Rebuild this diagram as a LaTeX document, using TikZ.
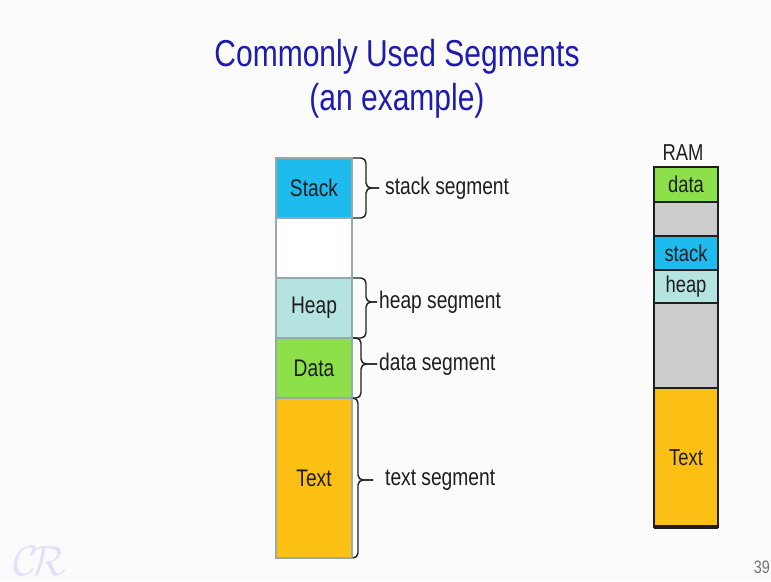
\documentclass[tikz,border=0pt]{standalone}
\usepackage{fontspec}
\setmainfont{Liberation Sans}[FakeStretch=0.8]
\usepackage{tikz}
\usepackage{xcolor}
\definecolor{pagebg}{HTML}{FAFBFA}
\definecolor{titleblue}{HTML}{1C1CB0}
\definecolor{stackblue}{HTML}{1EBBEE}
\definecolor{heapteal}{HTML}{B5E4E0}
\definecolor{datagreen}{HTML}{8EE04B}
\definecolor{textgold}{HTML}{FCBF14}
\definecolor{freegray}{HTML}{CCCDCC}
\definecolor{segedge}{HTML}{97A9AA}
\definecolor{inkdark}{HTML}{1E1E1E}

\begin{document}
\begin{tikzpicture}[x=1pt,y=-1pt,
  every node/.style={font=\fontsize{24}{28}\selectfont, text=inkdark},
  seg/.style={draw=segedge, line width=1.2pt, minimum width=76pt, inner sep=0pt, outer sep=0pt},
  ramseg/.style={draw=inkdark, line width=1.3pt, minimum width=64pt, inner sep=0pt, outer sep=0pt, font=\fontsize{23}{26}\selectfont},
  segbrace/.style={draw=inkdark, line width=1.4pt, rounded corners=5pt},
  seglbl/.style={anchor=west, inner sep=2pt}]
\useasboundingbox (0,0) rectangle (771,581);
\fill[pagebg] (0,0) rectangle (771,581);

% title
\node[text=titleblue, font=\fontsize{37.5}{40}\selectfont] (title) at (397,57) {Commonly Used Segments};
\node[text=titleblue, font=\fontsize{37.5}{40}\selectfont] (subtitle) at (397,101) {(an example)};

% segments of one program
\node[seg, fill=stackblue, minimum height=60pt] (stack) at (314,188) {Stack};
\node[seg, fill=white, minimum height=60pt] (gap) at (314,248) {};
\node[seg, fill=heapteal, minimum height=60pt] (heap) at (314,308) {Heap};
\node[seg, fill=datagreen, minimum height=60pt] (data) at (314,368) {Data};
\node[seg, fill=textgold, minimum height=160pt] (text) at (314,478) {Text};

\node[seglbl] (stacklbl) at (383,188) {stack segment};
\node[seglbl] (heaplbl) at (377,302) {heap segment};
\node[seglbl] (datalbl) at (377,364) {data segment};
\node[seglbl] (textlbl) at (383,480) {text segment};

\draw[segbrace] ([xshift=1pt]stack.north east) -- ++(13,0) |- ([xshift=-4pt]stacklbl.west);
\draw[segbrace] ([xshift=1pt]stack.south east) -- ++(13,0) |- ([xshift=-4pt]stacklbl.west);
\draw[segbrace] ([xshift=1pt]heap.north east) -- ++(13,0) |- (heaplbl.west);
\draw[segbrace] ([xshift=1pt]heap.south east) -- ++(13,0) |- (heaplbl.west);
\draw[segbrace] ([xshift=1pt]data.north east) -- ++(8,0) |- (datalbl.west);
\draw[segbrace] ([xshift=1pt]data.south east) -- ++(8,0) |- (datalbl.west);
\draw[segbrace] ([xshift=1pt]text.north east) -- ++(5,0) |- ([xshift=-10pt]textlbl.west);
\draw[segbrace] ([xshift=1pt]text.south east) -- ++(5,0) |- ([xshift=-10pt]textlbl.west);

% RAM layout
\node[font=\fontsize{23}{26}\selectfont] (ram) at (683,153) {RAM};
\node[ramseg, fill=datagreen, minimum height=35pt] (ramdata) at (686,184.5) {data};
\node[ramseg, fill=freegray, minimum height=34pt] (ramfree) at (686,219) {};
\node[ramseg, fill=stackblue, minimum height=34pt] (ramstack) at (686,253) {stack};
\node[ramseg, fill=heapteal, minimum height=33pt] (ramheap) at (686,286.5) {heap};
\node[ramseg, fill=freegray, minimum height=85pt] (ramhole) at (686,345.5) {};
\node[ramseg, fill=textgold, minimum height=139pt] (ramtext) at (686,457.5) {Text};
\draw[inkdark, line width=2pt] (ramdata.north west) rectangle (ramtext.south east);
\draw[inkdark, line width=4pt] (ramtext.south west) -- (ramtext.south east);

% slide marks
\node[text=blue!12] (mark) at (40,561) {\scalebox{1.7}{$\mathcal{C}\!\mathcal{R}$}};
\node[anchor=east, text=black!55, font=\fontsize{18}{20}\selectfont, inner sep=1pt] (pagenum) at (771,567) {39};
\end{tikzpicture}
\end{document}
